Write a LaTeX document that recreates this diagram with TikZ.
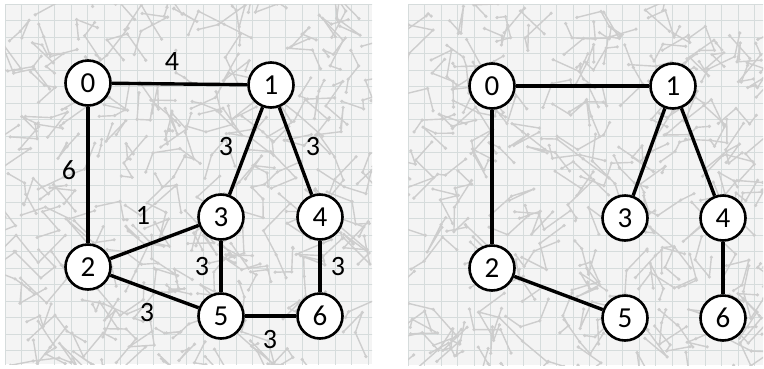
\documentclass[tikz,border=0pt]{standalone}
\usepackage{fontspec}
\setmainfont{Carlito}
\definecolor{panelc}{HTML}{F4F4F4}
\definecolor{gridc}{HTML}{D6DCDC}
\definecolor{scribc}{HTML}{CDCDCD}
\newcommand{\panelbg}[5]{%
  \begin{scope}
    \clip (#1,#3) rectangle (#2,#4);
    \fill[panelc] (#1,#3) rectangle (#2,#4);
    \pgfmathsetseed{#5}
    \foreach \i in {0,...,23}{\draw[gridl] ({#1+\i*16.5},#3) -- ++(0,370);}
    \foreach \i in {0,...,23}{\draw[gridl] (#1,{#3+\i*16.5}) -- ++(370,0);}
    \foreach \tx in {0,...,6}{
      \foreach \ty in {0,...,6}{
        \foreach \rep in {1,...,4}{
          \pgfmathsetmacro{\pax}{#1+\tx*55+rnd*55}
          \pgfmathsetmacro{\pay}{#3+\ty*55+rnd*55}
          \pgfmathsetmacro{\pbx}{\pax+(rnd-0.5)*55}
          \pgfmathsetmacro{\pby}{\pay+(rnd-0.5)*55}
          \pgfmathsetmacro{\pcx}{\pbx+(rnd-0.5)*55}
          \pgfmathsetmacro{\pcy}{\pby+(rnd-0.5)*55}
          \pgfmathsetmacro{\pdx}{\pcx+(rnd-0.5)*55}
          \pgfmathsetmacro{\pdy}{\pcy+(rnd-0.5)*55}
          \draw[scrib] (\pax,\pay) -- (\pbx,\pby) -- (\pcx,\pcy) -- (\pdx,\pdy);
          \fill[scribc] (\pax,\pay) circle (1.8) (\pbx,\pby) circle (1.8) (\pcx,\pcy) circle (1.8) (\pdx,\pdy) circle (1.8);
        }
      }
    }
  \end{scope}}
\begin{document}
\begin{tikzpicture}[x=1pt,y=-1pt,
  vtx/.style={circle,draw=black,line width=2.6pt,fill=white,minimum size=45pt,inner sep=0pt,font=\fontsize{29}{29}\selectfont},
  edge/.style={line width=3.4pt},
  wlab/.style={font=\fontsize{28}{28}\selectfont,inner sep=0pt},
  gridl/.style={draw=gridc,line width=1pt},
  scrib/.style={draw=scribc,line width=1.4pt,line join=round}]
\useasboundingbox (0,0) rectangle (764,368);
\panelbg{5}{372}{4}{364}{11}
\panelbg{408}{763}{4}{365}{23}

% left panel
\node[vtx] (a0) at (88,83) {0};
\node[vtx] (a1) at (271,85) {1};
\node[vtx] (a3) at (221,217) {3};
\node[vtx] (a4) at (320,217) {4};
\node[vtx] (a2) at (88,267) {2};
\node[vtx] (a5) at (221,316) {5};
\node[vtx] (a6) at (320,316) {6};
\draw[edge] (a0) -- (a1);
\draw[edge] (a0) -- (a2);
\draw[edge] (a1) -- (a3);
\draw[edge] (a1) -- (a4);
\draw[edge] (a2) -- (a3);
\draw[edge] (a2) -- (a5);
\draw[edge] (a3) -- (a5);
\draw[edge] (a4) -- (a6);
\draw[edge] (a5) -- (a6);
\node[wlab] (l01) at (172,62) {4};
\node[wlab] (l02) at (69,170) {6};
\node[wlab] (l13) at (226,147) {3};
\node[wlab] (l14) at (313,147) {3};
\node[wlab] (l23) at (143,215) {1};
\node[wlab] (l35) at (202,267) {3};
\node[wlab] (l46) at (338,267) {3};
\node[wlab] (l25) at (147,313) {3};
\node[wlab] (l56) at (270,340) {3};

% right panel
\node[vtx] (b0) at (492,86) {0};
\node[vtx] (b1) at (673,86) {1};
\node[vtx] (b3) at (625,218) {3};
\node[vtx] (b4) at (723,218) {4};
\node[vtx] (b2) at (492,268) {2};
\node[vtx] (b5) at (625,318) {5};
\node[vtx] (b6) at (723,318) {6};
\draw[edge] (b0) -- (b1);
\draw[edge] (b0) -- (b2);
\draw[edge] (b1) -- (b3);
\draw[edge] (b1) -- (b4);
\draw[edge] (b2) -- (b5);
\draw[edge] (b4) -- (b6);
\end{tikzpicture}
\end{document}
